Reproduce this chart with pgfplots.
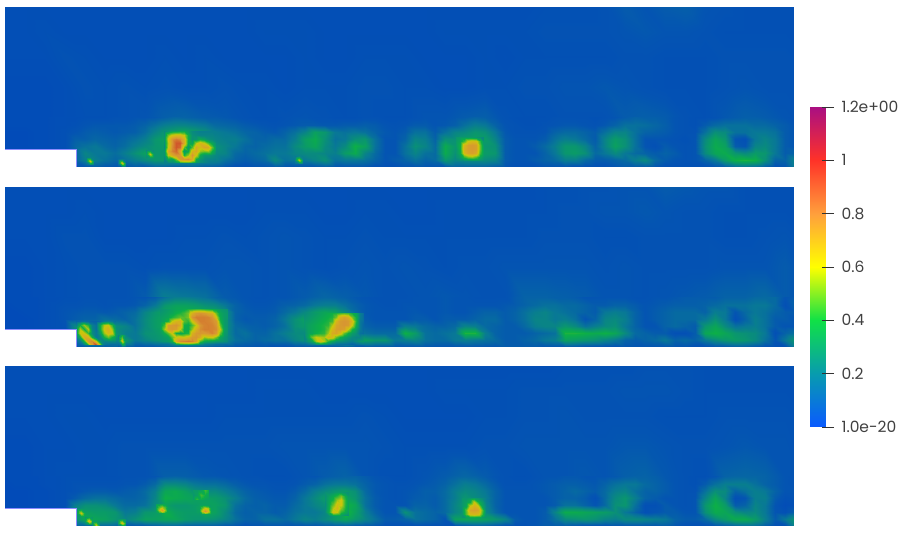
\documentclass[border=0pt]{standalone}
\usepackage{fontspec}
\setmainfont{Poppins}
\usepackage{pgfplots}
\pgfplotsset{compat=1.18}

\pgfplotsset{
  colormap={pview}{rgb255(0cm)=(0,66,190) rgb255(1cm)=(4,84,178) rgb255(2cm)=(8,120,150) rgb255(3cm)=(10,150,110) rgb255(4cm)=(12,175,70) rgb255(5cm)=(100,190,40) rgb255(6cm)=(200,200,10) rgb255(7cm)=(215,175,30) rgb255(8cm)=(215,150,50) rgb255(10cm)=(205,60,40) rgb255(12cm)=(140,15,110)},
  colormap={cbar}{rgb255=(10,90,255) rgb255=(8,155,175) rgb255=(16,225,70) rgb255=(255,255,0) rgb255=(255,160,60) rgb255=(255,50,40) rgb255=(170,15,130)},
  panel/.style={hide axis, scale only axis, anchor=south west, width=789pt, height=160pt,
    xmin=5, xmax=794, ymin=0, ymax=160, view={0}{90}, colormap name=pview,
    point meta min=0, point meta max=120},
}

% x0, dx, number of columns, rows as offset/{values}; values are hundredths
\newcommand{\grid}[4]{%
  \gdef\coords{}%
  \foreach \yy/\vals in {#4}{%
    \foreach \v [count=\i from 0] in \vals {%
      \pgfmathtruncatemacro\xx{#1+\i*#2}%
      \xdef\coords{\coords (\xx,\yy,0) [\v]}%
    }%
  }%
  \edef\doplot{\noexpand\addplot3[surf,shader=interp,mesh/cols=#3,point meta=explicit] coordinates {\coords};}%
  \doplot
}
\newcommand{\step}{%
  \fill[white] (axis cs:4,-1,0) rectangle (axis cs:76,18,0);
  \draw[color=blue!45!white,line width=.6pt] (axis cs:5,18,0) -- (axis cs:76,18,0) -- (axis cs:76,0,0) -- (axis cs:794,0,0);
}

\begin{document}
\begin{tikzpicture}
\path[use as bounding box] (0,0) rectangle (905pt,534pt);

% top panel
\begin{axis}[panel, at={(5pt,367pt)}]
\grid{5}{20}{41}{
160/{7,7,7,7,7,7,7,7,7,7,7,7,7,7,7,7,7,7,7,7,7,7,7,7,7,7,7,8,8,8,9,12,10,12,13,10,9,8,8,8,8},
135/{7,7,8,7,7,7,7,7,7,7,7,7,7,8,8,8,7,7,7,7,7,7,8,8,8,8,8,9,9,9,9,10,11,10,10,9,8,8,8,8,8},
110/{7,7,7,9,8,7,7,7,8,7,8,7,7,7,7,8,7,7,8,8,8,7,7,7,8,7,8,8,8,8,8,9,9,8,8,8,9,9,9,9,8},
80/{6,6,6,7,9,8,9,8,9,8,8,9,8,8,7,8,8,8,9,9,8,8,7,7,8,8,9,9,10,10,11,10,9,8,8,8,9,10,9,9,8},
50/{6,6,6,7,8,8,9,10,13,14,12,11,9,8,9,10,9,8,9,8,8,10,10,12,13,9,8,8,9,9,9,12,13,12,9,8,11,13,12,10,9}}
\grid{5}{10}{80}{
50/{6,6,6,6,6,7,7,7,8,8,8,9,9,10,10,11,13,15,14,13,12,12,11,10,9,8,8,8,9,10,10,9,9,8,8,8,9,9,8,8,8,9,10,10,10,11,12,14,13,11,9,8,8,8,8,9,9,9,9,8,9,10,12,14,13,13,12,10,9,8,8,9,11,12,13,13,12,11,10,9},
42/{6,6,6,6,6,7,7,8,10,11,11,11,11,12,14,18,22,24,24,22,20,16,15,14,12,11,10,9,10,11,12,12,11,11,12,12,13,12,10,9,10,12,12,10,11,13,18,22,20,14,10,9,8,8,9,10,11,11,10,9,11,14,18,18,17,15,13,10,9,8,12,16,18,18,18,16,16,14,12,10},
35/{5,5,5,6,6,7,8,10,12,13,12,11,12,13,17,24,30,33,36,32,28,22,20,18,15,14,12,11,14,18,24,34,30,20,18,20,18,14,11,10,12,18,18,12,18,24,26,30,28,20,11,9,9,9,10,14,16,16,14,12,18,24,24,18,14,13,12,10,9,9,18,28,26,18,18,20,20,18,12,10},
28/{5,5,5,6,6,7,8,13,13,15,14,13,15,18,22,30,34,34,34,34,30,24,22,22,18,14,14,16,16,22,33,38,28,18,20,28,30,18,10,10,14,24,22,14,28,28,32,34,32,24,12,10,10,10,12,18,22,20,16,12,24,32,28,18,10,10,10,9,8,10,26,36,30,10,8,20,24,20,12,10},
21/{5,5,5,6,6,7,8,15,18,20,16,14,17,22,26,30,32,32,32,30,30,28,24,20,15,14,16,18,18,26,32,36,26,20,26,40,34,18,10,10,18,28,24,16,38,30,36,30,30,28,12,10,10,12,16,22,30,30,24,14,24,34,28,18,10,8,12,10,9,10,28,38,34,12,10,24,26,20,12,10},
14/{5,5,5,5,5,5,5,14,24,20,20,17,22,28,34,30,30,32,30,30,28,26,24,16,14,16,18,20,20,24,26,26,24,22,32,38,24,16,10,10,18,24,18,16,38,28,34,34,32,30,12,10,10,10,14,20,30,32,28,16,20,26,20,16,14,12,14,12,9,10,26,36,38,30,26,32,30,20,12,14},
7/{5,5,5,5,5,5,5,14,22,22,18,15,18,22,26,30,30,30,30,28,26,24,18,14,12,14,16,26,18,20,20,24,28,18,20,20,18,14,10,12,14,18,14,16,30,24,26,26,26,24,12,10,10,12,14,16,22,22,16,12,12,14,16,22,26,16,12,10,9,10,14,20,32,40,42,40,28,14,14,24},
0/{5,5,5,5,5,5,5,10,10,12,10,10,10,12,10,14,14,12,12,14,12,12,10,8,8,10,10,12,10,10,10,10,12,10,10,10,10,8,8,8,10,10,10,10,10,14,14,14,14,12,10,8,8,8,10,10,10,8,8,8,8,10,12,12,12,10,8,8,8,8,8,10,12,16,18,16,12,8,10,22}}
\grid{164}{4}{14}{
36/{25,30,35,36,38,38,32,26,24,22,22,22,22,22},
32/{28,52,62,66,66,60,40,28,26,24,24,24,24,22},
28/{30,62,80,86,82,70,40,28,30,38,34,28,26,24},
24/{28,58,80,94,94,72,38,35,58,68,62,48,36,28},
20/{25,60,82,94,90,50,30,48,72,65,74,72,50,30},
16/{30,72,84,90,72,30,38,68,72,55,52,55,40,28},
12/{28,60,72,80,78,42,55,80,62,38,30,30,28,24},
8/{24,38,35,52,78,80,82,72,40,30,26,24,24,22},
4/{22,24,25,30,36,40,40,36,30,26,24,22,20,20}}
\grid{456}{4}{8}{
30/{30,32,32,32,32,30,28,24},
26/{32,36,46,62,66,64,44,26},
22/{32,40,68,76,78,76,50,28},
18/{30,40,70,76,78,76,50,30},
14/{30,38,66,74,76,72,46,30},
10/{28,32,44,52,54,48,36,28},
6/{24,26,26,26,26,26,26,24}}
\grid{86}{4}{3}{10/{22,24,22},6/{24,62,24},2/{14,20,14}}
\grid{118}{4}{3}{8/{18,22,18},4/{20,66,20},0/{10,14,10}}
\grid{146}{4}{3}{17/{26,30,26},13/{30,60,30},9/{26,30,26}}
\grid{295}{4}{3}{11/{20,26,20},7/{26,58,26},3/{16,20,16}}
\step
\end{axis}

% middle panel
\begin{axis}[panel, at={(5pt,187pt)}]
\grid{5}{20}{41}{
160/{7,7,7,7,7,7,7,7,7,7,7,7,7,7,7,7,7,7,7,7,7,7,7,7,7,7,7,8,8,9,9,10,10,12,11,10,10,8,8,8,8},
135/{7,7,7,7,8,7,7,7,7,7,7,7,7,8,8,8,7,7,8,8,7,7,8,8,8,8,8,8,9,9,10,10,11,10,9,9,8,8,8,8,8},
110/{7,7,7,9,9,7,7,7,7,8,8,9,8,9,10,9,8,8,9,8,8,8,8,8,8,8,8,9,9,9,8,8,9,9,9,9,8,8,9,10,8},
80/{6,6,7,8,9,9,9,8,9,9,9,10,10,9,10,9,8,9,10,9,10,9,8,9,9,10,10,10,10,10,9,10,9,9,9,9,10,10,10,12,9},
50/{6,6,7,8,9,9,9,12,22,20,18,12,10,9,10,12,15,13,11,9,9,10,11,10,9,9,14,14,13,12,10,10,9,10,11,12,14,14,16,12,9}}
\grid{5}{10}{80}{
50/{6,6,6,6,7,7,8,8,9,9,9,9,9,10,10,12,18,22,22,20,18,14,12,11,10,9,9,10,10,11,12,14,15,14,13,11,10,9,9,9,9,10,10,10,11,10,10,9,9,9,9,12,14,14,14,13,13,12,10,10,10,10,10,9,9,10,10,11,12,12,12,12,14,14,14,16,16,16,10,12},
42/{5,6,6,6,7,8,9,9,10,10,9,10,10,11,14,20,30,34,34,32,28,26,20,14,11,10,10,11,13,14,16,20,22,22,18,14,11,10,9,9,10,10,10,10,11,10,10,10,10,10,11,12,14,16,18,18,16,16,14,12,12,14,14,12,10,11,12,13,13,13,14,16,18,18,18,20,20,16,8,14},
35/{5,5,6,6,7,8,10,11,12,12,11,12,14,16,24,30,36,38,40,38,36,34,28,14,12,11,11,12,16,20,26,32,36,34,26,16,11,10,10,10,10,11,10,10,11,10,10,12,14,14,12,14,18,22,24,20,18,16,14,12,20,22,20,14,10,12,14,16,16,16,14,22,20,10,16,20,18,14,12,12},
28/{5,5,5,6,7,8,10,12,14,14,18,16,14,18,26,32,36,38,40,40,36,34,28,14,11,12,12,14,20,28,34,38,42,45,36,20,12,10,10,10,10,12,12,10,12,12,12,14,16,16,12,14,18,24,24,20,22,18,10,14,24,26,22,14,10,12,14,16,16,16,20,28,20,8,14,22,18,12,12,10},
21/{5,5,5,6,7,8,9,26,26,22,26,28,24,18,26,32,36,36,38,38,36,34,28,16,14,13,12,14,18,28,32,40,42,45,38,20,14,12,12,12,22,20,16,14,14,16,24,22,16,14,12,12,16,22,24,24,30,26,18,22,26,28,20,14,10,10,14,16,14,12,30,36,26,18,20,22,18,12,10,10},
14/{5,5,5,5,5,5,5,24,34,28,30,30,22,20,28,30,34,36,38,38,36,34,28,16,18,14,14,18,22,26,26,34,38,42,38,22,18,16,16,16,40,32,18,16,18,20,42,42,22,14,12,12,12,14,16,18,42,42,40,38,40,36,26,16,14,12,12,8,8,12,36,40,36,30,28,26,20,8,14,18},
7/{5,5,5,5,5,5,5,18,30,30,22,24,32,20,24,28,32,36,38,38,36,32,26,18,16,14,16,18,18,24,28,26,30,32,38,26,34,30,30,20,22,24,18,16,16,20,22,20,18,16,12,12,14,16,20,22,34,32,30,28,24,20,14,12,14,16,20,14,16,14,20,26,30,32,30,26,18,10,20,30},
0/{5,5,5,5,5,5,5,10,12,12,12,14,12,10,10,10,12,14,14,14,12,10,10,10,10,10,10,8,8,10,10,10,10,10,12,10,10,10,10,10,10,10,10,10,10,10,10,10,10,10,12,12,12,12,10,10,10,10,8,8,8,8,10,10,10,10,10,10,10,8,8,10,10,12,12,10,8,8,8,22}}
\grid{160}{4}{18}{
38/{28,30,32,34,36,36,38,42,44,46,46,44,42,40,36,32,30,28},
34/{30,32,34,36,40,42,46,52,70,78,80,78,72,70,50,36,32,30},
30/{32,34,36,42,46,50,48,52,80,85,85,85,84,80,62,38,32,30},
26/{32,36,42,60,68,70,48,44,62,78,85,85,84,82,78,42,32,28},
22/{34,46,76,78,80,72,40,38,48,60,80,84,85,84,80,50,32,28},
18/{34,55,75,78,76,60,38,38,55,70,82,85,85,84,82,60,34,28},
14/{32,38,50,62,40,36,40,42,70,78,80,78,80,84,78,50,32,28},
10/{30,32,34,50,62,65,62,68,78,80,72,56,60,62,52,36,30,26},
6/{28,30,32,40,72,82,84,86,84,76,48,38,36,34,32,30,28,26},
2/{14,14,14,18,24,28,30,30,28,24,20,16,14,14,12,12,12,12}}
\grid{76}{4}{11}{
26/{14,16,18,16,14,14,16,22,24,20,16},
22/{22,40,55,42,22,18,40,58,62,44,26},
18/{30,58,40,58,24,18,40,62,70,55,28},
14/{30,62,62,45,26,20,32,55,66,62,30},
10/{22,40,72,70,40,20,24,40,50,40,30},
6/{16,22,42,78,82,60,28,24,26,26,26},
2/{10,14,20,40,75,100,60,20,16,14,14}}
\grid{304}{4}{16}{
34/{26,28,30,32,34,36,38,40,42,46,48,46,40,36,22,16},
30/{28,30,32,34,36,38,40,42,52,70,75,70,52,40,22,16},
26/{30,32,34,36,38,40,42,46,68,78,80,78,66,42,20,16},
22/{30,34,36,38,40,42,44,58,74,78,80,78,60,38,20,14},
18/{28,34,36,38,40,42,50,66,76,78,76,60,42,32,20,14},
14/{26,34,36,40,42,44,56,72,74,66,50,40,32,28,18,16},
10/{24,36,52,60,58,56,68,66,50,40,34,30,26,24,24,28},
6/{24,30,36,56,66,58,44,36,30,28,26,24,22,26,30,32},
2/{14,16,18,20,22,20,18,16,14,14,14,14,12,14,16,18}}
\grid{118}{4}{3}{12/{22,40,22},6/{24,62,24},0/{10,16,10}}
\step
\end{axis}

% bottom panel
\begin{axis}[panel, at={(5pt,8pt)}]
\grid{5}{20}{41}{
160/{7,7,7,7,7,7,7,7,7,7,7,7,7,7,7,7,7,7,7,7,7,7,7,7,7,7,7,7,8,8,8,8,9,9,9,8,8,8,8,8,8},
135/{7,7,7,7,7,7,7,7,7,7,7,7,7,8,8,8,7,7,7,7,7,7,8,8,8,8,9,9,9,9,9,10,10,10,9,8,8,8,8,8,8},
110/{7,7,7,8,8,7,7,7,7,7,7,8,8,8,8,8,8,8,9,8,7,7,7,7,8,8,9,9,10,9,9,9,9,8,8,8,9,9,9,9,8},
80/{6,6,7,7,8,8,9,9,9,9,9,9,9,9,10,10,10,10,10,9,8,8,8,8,9,9,10,10,10,10,10,11,11,10,9,9,10,11,10,10,8},
50/{6,6,7,8,8,8,9,9,13,13,11,10,9,8,8,10,12,14,10,8,8,10,12,15,12,9,8,10,10,11,10,13,14,11,9,8,14,15,14,10,9}}
\grid{5}{10}{80}{
50/{6,6,6,6,7,7,8,8,8,8,8,8,9,9,9,10,13,14,13,12,11,11,10,10,9,9,8,8,8,9,10,10,12,13,14,14,12,10,9,8,8,9,10,11,12,14,15,14,12,10,9,8,8,9,10,10,11,11,10,10,10,11,13,14,14,13,11,10,9,8,8,10,14,15,15,15,14,12,10,9},
42/{5,6,6,6,7,7,8,9,9,9,9,9,10,10,12,16,26,26,24,20,18,18,16,13,11,10,10,9,9,10,12,14,18,20,20,18,14,11,10,9,9,10,11,12,14,18,22,20,16,12,9,9,9,10,11,12,13,13,12,11,14,18,20,20,16,14,12,10,9,8,12,18,22,22,22,18,14,12,10,9},
35/{5,5,5,6,6,7,8,9,11,12,12,11,12,13,16,22,36,38,34,28,26,26,22,18,14,12,11,10,10,12,16,22,26,30,32,28,16,11,10,9,10,11,13,13,16,22,26,24,20,14,10,10,10,10,11,12,14,16,14,12,16,22,24,18,14,14,12,10,9,9,18,28,26,14,18,22,20,14,10,10},
28/{5,5,5,6,6,7,8,12,16,18,18,16,14,14,16,24,40,38,36,34,34,32,28,22,16,13,12,11,11,14,20,26,32,36,36,30,18,12,10,9,10,12,13,12,16,22,30,26,22,14,10,10,10,10,10,12,14,14,12,8,16,26,30,22,14,12,10,10,9,10,24,36,24,8,10,22,22,12,8,9},
21/{5,5,5,6,6,7,8,22,28,28,26,20,16,16,18,26,34,30,30,32,34,34,30,18,14,13,14,12,12,16,20,24,28,34,42,36,18,12,10,10,10,14,14,12,16,24,32,28,24,14,10,10,10,10,10,12,18,18,14,10,16,28,30,18,8,8,12,10,9,10,30,40,32,12,14,24,20,10,6,8},
14/{5,5,5,5,5,5,5,28,34,32,32,30,20,22,30,32,40,34,32,32,38,34,26,16,13,14,14,12,14,18,20,20,24,32,44,34,22,14,10,10,28,18,16,14,16,24,30,30,26,16,10,10,10,10,12,24,38,38,36,34,32,28,20,14,8,10,12,12,10,10,28,38,36,28,24,26,20,10,8,14},
7/{5,5,5,5,5,5,5,28,38,36,34,30,24,28,34,34,36,36,32,30,30,28,24,18,14,14,18,18,16,20,24,22,26,32,36,30,24,18,12,12,14,18,16,14,10,34,36,36,34,30,24,12,10,10,12,18,26,28,30,28,24,22,26,26,24,22,20,14,12,12,16,26,32,38,38,32,22,12,20,30},
0/{5,5,5,5,5,5,5,14,14,14,14,14,10,10,10,12,14,14,12,12,12,12,10,10,8,10,10,10,10,10,10,10,12,12,12,10,10,10,8,8,8,8,8,8,8,8,10,12,12,10,8,8,8,10,12,12,12,10,8,8,8,10,10,10,10,10,12,10,8,8,8,10,12,14,16,16,12,8,8,24}}
\grid{156}{3}{5}{22/{34,36,38,36,34},19/{36,48,56,46,34},16/{36,58,76,54,32},13/{32,40,46,38,30}}
\grid{199}{3}{5}{21/{34,36,36,34,32},18/{34,50,62,56,34},15/{34,62,80,66,34},12/{30,40,44,38,30}}
\grid{193}{4}{5}{36/{32,32,34,46,38},31/{30,34,46,40,34},26/{32,46,38,34,32}}
\grid{325}{4}{7}{
34/{28,28,30,32,32,30,28},
30/{28,34,38,44,52,40,30},
26/{28,36,42,56,62,44,32},
22/{26,38,50,64,62,44,32},
18/{26,40,58,68,54,42,32},
14/{26,42,64,60,44,38,30},
10/{24,28,32,32,30,26,24}}
\grid{462}{4}{7}{
28/{30,30,32,34,30,26,22},
24/{30,34,40,62,42,32,22},
20/{30,36,62,70,62,36,24},
16/{30,50,74,76,74,50,24},
12/{30,48,66,68,66,46,24},
8/{28,30,32,32,30,28,24}}
\grid{77}{4}{3}{17/{30,34,30},13/{34,62,34},9/{28,32,28}}
\grid{85}{4}{3}{9/{28,36,28},5/{36,68,36},1/{18,28,18}}
\grid{92}{4}{3}{5/{30,34,30},1/{26,60,26},-3/{14,14,14}}
\grid{118}{4}{3}{7/{30,34,30},3/{34,66,34},-1/{14,16,14}}
\step
\end{axis}

% colour bar
\begin{axis}[scale only axis, anchor=south west, at={(810pt,107pt)}, width=16pt, height=320pt,
  xmin=0, xmax=1, ymin=0, ymax=1.2, xtick=\empty, axis line style={draw=none},
  view={0}{90}, colormap name=cbar, point meta min=0, point meta max=1.2,
  ytick={0,0.2,0.4,0.6,0.8,1,1.2}, yticklabels={1.0e-20,0.2,0.4,0.6,0.8,1,1.2e+00},
  ytick pos=right, tick align=center, major tick length=12pt,
  ytick style={black!80, line width=.8pt, xshift=2pt},
  yticklabel style={anchor=west, xshift=6pt, font=\fontsize{15.5}{17}\selectfont, text=black!75},
]
\addplot3[surf, shader=interp, mesh/cols=2, point meta=explicit] coordinates {
  (0,0,0) [0] (1,0,0) [0]
  (0,0.2,0) [0.2] (1,0.2,0) [0.2]
  (0,0.4,0) [0.4] (1,0.4,0) [0.4]
  (0,0.6,0) [0.6] (1,0.6,0) [0.6]
  (0,0.8,0) [0.8] (1,0.8,0) [0.8]
  (0,1,0) [1] (1,1,0) [1]
  (0,1.2,0) [1.2] (1,1.2,0) [1.2]
};
\end{axis}
\end{tikzpicture}
\end{document}
